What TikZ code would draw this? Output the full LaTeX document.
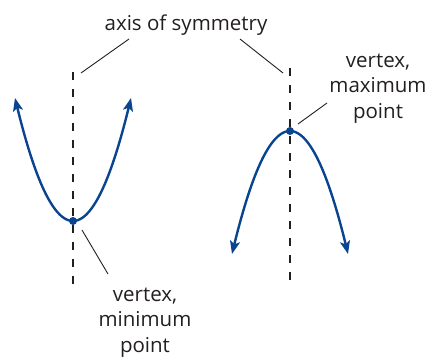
\documentclass[tikz,border=0pt]{standalone}
\usepackage{fontspec}
\setmainfont{Open Sans}
\usetikzlibrary{arrows.meta}
\definecolor{curveblue}{RGB}{10,68,145}
\definecolor{txt}{RGB}{35,31,32}
\begin{document}
\begin{tikzpicture}[x=1pt,y=-1pt,
  axisline/.style={txt,line width=2pt,dash pattern=on 7.5pt off 9.5pt},
  curve/.style={curveblue,line width=2.4pt,{Stealth[length=13pt,width=10pt,inset=3pt]}-{Stealth[length=13pt,width=10pt,inset=3pt]}},
  pointer/.style={txt,line width=0.9pt},
  label/.style={txt,font=\fontsize{20.5}{25.5}\selectfont,align=center,inner sep=0pt},
  vdot/.style={circle,fill=curveblue,inner sep=0pt,minimum size=8pt}]
\useasboundingbox (0,0) rectangle (428,356);
% axes
\coordinate (la1) at (73,72);
\coordinate (la2) at (73,286);
\coordinate (ra1) at (290,68);
\coordinate (ra2) at (290,281);
\draw[axisline] (la1) -- (la2);
\draw[axisline] (ra1) -- (ra2);
% curves
\draw[curve] plot[domain=-58:58,samples=60,smooth] ({73+\x},{221-0.03656*\x*\x});
\draw[curve] plot[domain=-58:58,samples=60,smooth] ({290+\x},{131+0.03656*\x*\x});
% vertices
\node[vdot] (vmin) at (73,221) {};
\node[vdot] (vmax) at (290,131) {};
% labels
\node[label,anchor=base] (axis) at (186,30) {axis of symmetry};
\node[label,anchor=base] (maxl) at (378,118) {vertex,\\maximum\\point};
\node[label,anchor=base] (minl) at (145,352) {vertex,\\minimum\\point};
% pointers
\coordinate (p1) at (129,39);
\coordinate (p1e) at (81,73);
\coordinate (p2) at (240,39);
\coordinate (p2e) at (283,73);
\coordinate (p3) at (327,103);
\coordinate (p3e) at (298,124);
\coordinate (p4) at (108,274);
\coordinate (p4e) at (82,230);
\draw[pointer] (p1) -- (p1e);
\draw[pointer] (p2) -- (p2e);
\draw[pointer] (p3) -- (p3e);
\draw[pointer] (p4) -- (p4e);
\end{tikzpicture}
\end{document}
